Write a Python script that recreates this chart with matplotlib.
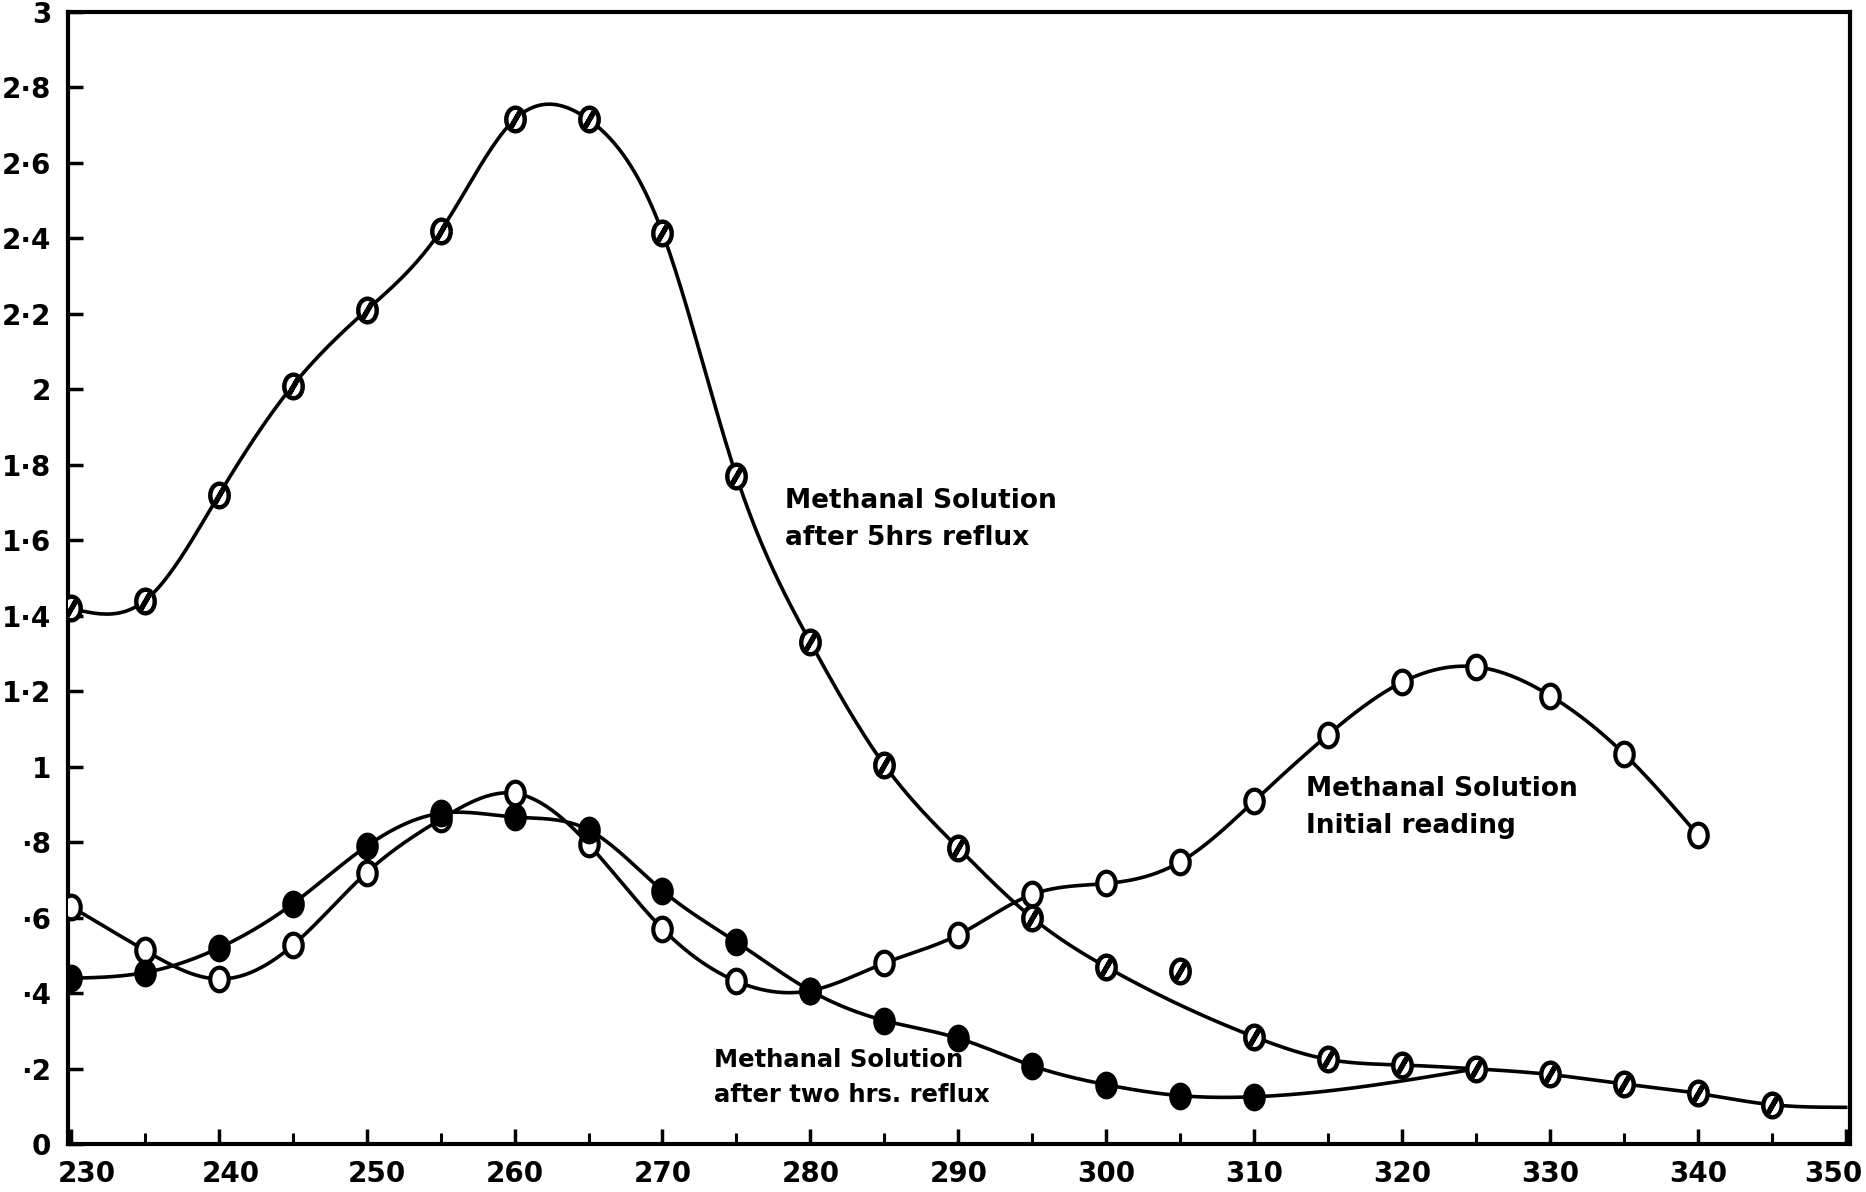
import numpy as np
import matplotlib
matplotlib.use("Agg")
import matplotlib.pyplot as plt
from matplotlib.path import Path
from matplotlib.ticker import MultipleLocator, FixedLocator
from matplotlib.transforms import ScaledTranslation

# ---------------- data ----------------
wavelength_5hr = [230, 235, 240, 245, 250, 255, 260, 265, 270, 275, 280, 285,
                  290, 295, 300, 305, 310, 315, 320, 325, 330, 335, 340, 345]
absorb_5hr = [1.42, 1.44, 1.72, 2.01, 2.21, 2.42, 2.715, 2.715, 2.415, 1.77, 1.33, 1.005,
              0.785, 0.60, 0.47, 0.46, 0.285, 0.225, 0.21, 0.20, 0.185, 0.16, 0.135, 0.105]
outlier_5hr = [305]            # point not on the drawn curve
curve_end_5hr = (350, 0.098)   # curve runs on to the right edge

wavelength_2hr = [230, 235, 240, 245, 250, 255, 260, 265, 270, 275, 280, 285,
                  290, 295, 300, 305, 310]
absorb_2hr = [0.44, 0.455, 0.52, 0.637, 0.79, 0.877, 0.867, 0.833, 0.672, 0.536, 0.407, 0.328,
              0.281, 0.208, 0.158, 0.129, 0.126]
join_2hr = 325                 # 2-hr curve merges into the 5-hr curve here

wavelength_init = [230, 235, 240, 245, 250, 255, 260, 265, 270, 275, 280, 285,
                   290, 295, 300, 305, 310, 315, 320, 325, 330, 335, 340]
absorb_init = [0.63, 0.514, 0.438, 0.527, 0.72, 0.861, 0.93, 0.795, 0.571, 0.432, 0.407, 0.48,
               0.555, 0.662, 0.691, 0.748, 0.909, 1.085, 1.224, 1.265, 1.189, 1.035, 0.82]

x_ticks = [230, 240, 250, 260, 270, 280, 290, 300, 310, 320, 330, 340, 350]
y_ticks = [0, 0.2, 0.4, 0.6, 0.8, 1.0, 1.2, 1.4, 1.6, 1.8, 2.0, 2.2, 2.4, 2.6, 2.8, 3.0]
y_tick_labels = ["0", "·2", "·4", "·6", "·8", "1", "1·2", "1·4", "1·6", "1·8",
                 "2", "2·2", "2·4", "2·6", "2·8", "3"]

label_5hr = "Methanal Solution\nafter 5hrs reflux"
label_init = "Methanal Solution\nInitial reading"
label_2hr = "Methanal Solution\nafter two hrs. reflux"


# ---------------- helpers ----------------
def natural_spline(x, y, n=600):
    x = np.asarray(x, float)
    y = np.asarray(y, float)
    k = len(x)
    h = np.diff(x)
    A = np.zeros((k, k))
    b = np.zeros(k)
    A[0, 0] = 1
    A[-1, -1] = 1
    for i in range(1, k - 1):
        A[i, i - 1] = h[i - 1]
        A[i, i] = 2 * (h[i - 1] + h[i])
        A[i, i + 1] = h[i]
        b[i] = 6 * ((y[i + 1] - y[i]) / h[i] - (y[i] - y[i - 1]) / h[i - 1])
    M = np.linalg.solve(A, b)
    xs = np.linspace(x[0], x[-1], n)
    idx = np.clip(np.searchsorted(x, xs) - 1, 0, k - 2)
    x0, x1 = x[idx], x[idx + 1]
    y0, y1 = y[idx], y[idx + 1]
    m0, m1 = M[idx], M[idx + 1]
    hh = x1 - x0
    t0 = x1 - xs
    t1 = xs - x0
    ys = (m0 * t0 ** 3 + m1 * t1 ** 3) / (6 * hh) + (y0 / hh - m0 * hh / 6) * t0 + (y1 / hh - m1 * hh / 6) * t1
    return xs, ys


circ = Path.unit_circle()
ellipse_marker = Path(circ.vertices * np.array([0.78, 1.0]), circ.codes)

# ---------------- figure ----------------
fig = plt.figure(figsize=(18.66, 11.92), dpi=100)
ax = fig.add_axes([0.0364, 0.040, 0.9551, 0.950])
ax.set_xlim(229.8, 350.3)
ax.set_ylim(0, 3.0)

lw = 2.6
ms = 17

# 5 hr curve (without outlier)
cx = [w for w in wavelength_5hr if w not in outlier_5hr] + [curve_end_5hr[0]]
cy = [a for w, a in zip(wavelength_5hr, absorb_5hr) if w not in outlier_5hr] + [curve_end_5hr[1]]
xs, ys = natural_spline(cx, cy)
ax.plot(xs, ys, color="black", lw=lw, zorder=2)

# 2 hr curve, merging into 5 hr curve
j = wavelength_5hr.index(join_2hr)
c2x = wavelength_2hr + [join_2hr]
c2y = absorb_2hr + [absorb_5hr[j]]
xs, ys = natural_spline(c2x, c2y)
ax.plot(xs, ys, color="black", lw=lw, zorder=2)

# initial reading curve
xs, ys = natural_spline(wavelength_init, absorb_init)
ax.plot(xs, ys, color="black", lw=lw, zorder=2)

# markers
ax.plot(wavelength_init, absorb_init, ls="none", marker=ellipse_marker, ms=ms,
        mfc="white", mec="black", mew=3.0, zorder=3)
ax.plot(wavelength_2hr, absorb_2hr, ls="none", marker=ellipse_marker, ms=ms,
        mfc="black", mec="black", mew=3.0, zorder=4)
ax.plot(wavelength_5hr, absorb_5hr, ls="none", marker=ellipse_marker, ms=ms,
        mfc="white", mec="black", mew=3.2, zorder=5)
ax.plot(wavelength_5hr, absorb_5hr, ls="none", marker=(2, 2, -30), ms=ms * 0.75,
        mec="black", mew=3.6, zorder=6)

# labels
tkw = dict(fontweight="bold", color="black", va="top", ha="left",
           linespacing=1.55, family="DejaVu Sans")
ax.text(278.3, 1.74, label_5hr, fontsize=19, **tkw)
ax.text(313.5, 0.975, label_init, fontsize=19, **tkw)
ax.text(273.5, 0.255, label_2hr, fontsize=17.5, **tkw)

# axes styling
for s in ax.spines.values():
    s.set_linewidth(3)
ax.xaxis.set_major_locator(FixedLocator(x_ticks))
ax.xaxis.set_minor_locator(MultipleLocator(5))
ax.yaxis.set_major_locator(FixedLocator(y_ticks))
ax.set_yticklabels(y_tick_labels)
ax.set_xticklabels([str(v) for v in x_ticks])
ax.tick_params(axis="both", which="major", direction="in", length=11, width=2.5,
               labelsize=20)
ax.tick_params(axis="x", which="major", pad=11)
ax.tick_params(axis="x", which="minor", direction="in", length=8, width=2.2)
ax.tick_params(axis="y", which="major", pad=12)
for lab in ax.get_xticklabels() + ax.get_yticklabels():
    lab.set_fontweight("bold")

xlabs = ax.get_xticklabels()
xlabs[0].set_transform(xlabs[0].get_transform() + ScaledTranslation(0.16, 0, fig.dpi_scale_trans))
xlabs[1].set_transform(xlabs[1].get_transform() + ScaledTranslation(0.12, 0, fig.dpi_scale_trans))
xlabs[2].set_transform(xlabs[2].get_transform() + ScaledTranslation(0.10, 0, fig.dpi_scale_trans))
xlabs[-1].set_transform(xlabs[-1].get_transform() + ScaledTranslation(-0.12, 0, fig.dpi_scale_trans))

fig.savefig("out.png", dpi=100)
